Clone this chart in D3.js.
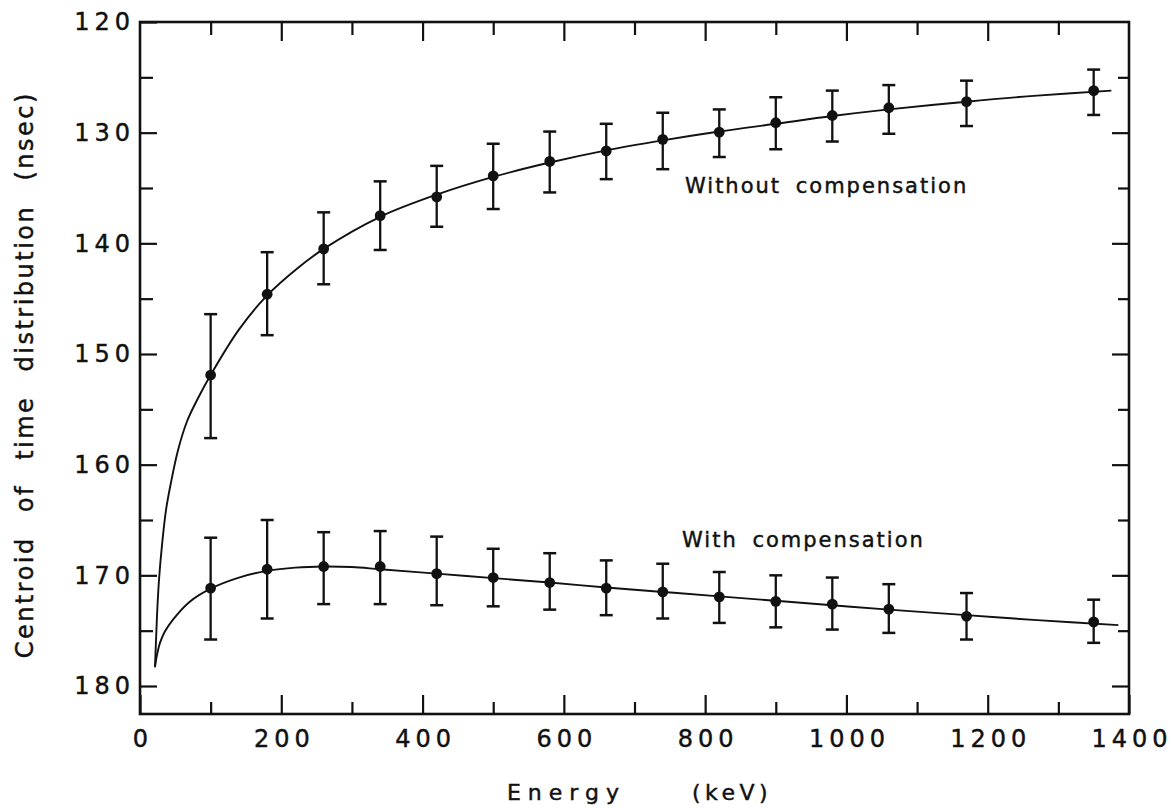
<!DOCTYPE html>
<html>
<head>
<meta charset="utf-8">
<script src="https://cdn.jsdelivr.net/npm/d3@7"></script>
<style>
  body { margin: 0; background: #fff; }
  svg { display: block; }
  text { font-family: "DejaVu Sans", sans-serif; fill: #111; stroke: #111; stroke-width: 0.45px; }
</style>
</head>
<body>
<div id="chart"></div>
<script>
// energies of the measured points (keV)
const energies = [100, 180, 260, 340, 420, 500, 580, 660, 740, 820, 900, 980, 1060, 1170, 1350];

// without compensation: centroid, error bar top, error bar bottom (nsec)
const withoutMean = [151.9, 144.6, 140.5, 137.5, 135.8, 133.9, 132.6, 131.65, 130.6, 129.95, 129.1, 128.45, 127.75, 127.2, 126.2];
const withoutTop = [146.4, 140.8, 137.2, 134.4, 133.0, 131.0, 129.9, 129.2, 128.2, 127.9, 126.8, 126.2, 125.7, 125.3, 124.3];
const withoutBottom = [157.6, 148.3, 143.7, 140.6, 138.5, 136.9, 135.4, 134.2, 133.3, 132.2, 131.5, 130.8, 130.1, 129.4, 128.4];

// with compensation
const withMean = [171.15, 169.45, 169.2, 169.2, 169.85, 170.2, 170.65, 171.15, 171.5, 171.95, 172.35, 172.6, 173.05, 173.7, 174.2];
const withTop = [166.6, 165.0, 166.1, 166.0, 166.5, 167.6, 168.0, 168.65, 168.95, 169.7, 170.0, 170.2, 170.8, 171.6, 172.2];
const withBottom = [175.8, 173.9, 172.6, 172.6, 172.7, 172.8, 173.1, 173.6, 173.9, 174.3, 174.7, 174.9, 175.2, 175.8, 176.1];

// fitted curves [keV, nsec]
const withoutCurve = [[21.2, 178.3], [22.4, 176.3], [24.1, 173.6], [26.9, 170.4], [31.1, 167.3], [36.8, 164.1],
  [43.9, 161.6], [53.8, 158.7], [66.5, 156.1], [82.1, 154.0], [100, 151.9], [140, 147.8], [180, 144.7],
  [220, 142.4], [260, 140.5], [340, 137.6], [420, 135.6], [500, 134.0], [580, 132.7], [660, 131.6],
  [740, 130.7], [820, 129.9], [900, 129.2], [980, 128.5], [1060, 127.9], [1170, 127.2], [1270, 126.65],
  [1375, 126.2]];
const withCurve = [[21.2, 178.3], [24, 177.2], [28.3, 176.1], [35, 175.1], [46.7, 174.0], [70, 172.4],
  [100, 171.2], [140, 170.2], [180, 169.6], [220, 169.3], [260, 169.2], [300, 169.25], [340, 169.45],
  [420, 169.85], [500, 170.25], [580, 170.65], [660, 171.1], [740, 171.5], [820, 171.9], [900, 172.3],
  [980, 172.7], [1060, 173.1], [1170, 173.6], [1270, 174.05], [1385, 174.5]];

// ticks
const xMajor = [0, 200, 400, 600, 800, 1000, 1200, 1400];
const xMinor = [100, 300, 500, 700, 900, 1100, 1300];
const yMajor = [120, 130, 140, 150, 160, 170, 180];
const yMinor = [125, 135, 145, 155, 165, 175];

// curve labels [text, keV, nsec]
const curveLabels = [["Without compensation", 771.5, 135.45], ["With compensation", 767.3, 167.44]];

const W = 1172, H = 808;
const mLeft = 140, mRight = 1129, mTop = 22, mBottom = 714;

const svg = d3.select("#chart").append("svg")
    .attr("width", W)
    .attr("height", H);

const x = d3.scaleLinear().domain([0, 1400]).range([mLeft, mRight]);
const y = d3.scaleLinear().domain([120, 180]).range([mTop, 686]);

const tickLs = 5;

// bottom axis with labels
const gBottom = svg.append("g")
    .attr("transform", "translate(0," + mBottom + ")")
    .call(d3.axisBottom(x).tickValues(xMajor).tickSize(-19).tickPadding(16).tickFormat(d3.format("d")));
gBottom.selectAll("text")
    .attr("font-size", 24)
    .attr("letter-spacing", tickLs)
    .attr("dx", tickLs / 2)
    .style("font-family", '"DejaVu Sans", sans-serif')
    .attr("fill", "#111");
svg.append("g")
    .attr("transform", "translate(0," + mBottom + ")")
    .call(d3.axisBottom(x).tickValues(xMinor).tickSize(-12).tickFormat(""));

// top axis
svg.append("g")
    .attr("transform", "translate(0," + mTop + ")")
    .call(d3.axisTop(x).tickValues(xMajor.slice(1, -1)).tickSize(-19).tickFormat(""));
svg.append("g")
    .attr("transform", "translate(0," + mTop + ")")
    .call(d3.axisTop(x).tickValues(xMinor).tickSize(-13).tickFormat(""));

// left axis with labels
const gLeft = svg.append("g")
    .attr("transform", "translate(" + mLeft + ",0)")
    .call(d3.axisLeft(y).tickValues(yMajor).tickSize(-17).tickPadding(5).tickFormat(d3.format("d")));
gLeft.selectAll("text")
    .attr("font-size", 24)
    .attr("letter-spacing", tickLs)
    .style("font-family", '"DejaVu Sans", sans-serif')
    .attr("fill", "#111");
svg.append("g")
    .attr("transform", "translate(" + mLeft + ",0)")
    .call(d3.axisLeft(y).tickValues(yMinor).tickSize(-13).tickFormat(""));

// right axis
svg.append("g")
    .attr("transform", "translate(" + mRight + ",0)")
    .call(d3.axisRight(y).tickValues(yMajor.slice(1)).tickSize(-17).tickFormat(""));
svg.append("g")
    .attr("transform", "translate(" + mRight + ",0)")
    .call(d3.axisRight(y).tickValues(yMinor).tickSize(-11).tickFormat(""));

svg.selectAll(".domain").remove();
svg.selectAll(".tick line").attr("stroke", "#111").attr("stroke-width", 2.2);

// frame
svg.append("rect")
    .attr("x", mLeft)
    .attr("y", mTop)
    .attr("width", mRight - mLeft)
    .attr("height", mBottom - mTop)
    .attr("fill", "none")
    .attr("stroke", "#111")
    .attr("stroke-width", 2.6);

// fitted curves
const line = d3.line()
    .x(d => x(d[0]))
    .y(d => y(d[1]))
    .curve(d3.curveCatmullRom.alpha(0.5));

[withoutCurve, withCurve].forEach(c => {
    svg.append("path")
        .datum(c)
        .attr("d", line)
        .attr("fill", "none")
        .attr("stroke", "#111")
        .attr("stroke-width", 1.9);
});

// error bars and points
function drawSeries(mean, lo, hi) {
    const rows = energies.map((e, i) => ({ e: e, m: mean[i], lo: lo[i], hi: hi[i] }));
    const g = svg.append("g");
    const bars = g.selectAll(".bar").data(rows).enter().append("g");
    bars.append("line")
        .attr("x1", d => x(d.e)).attr("x2", d => x(d.e))
        .attr("y1", d => y(d.lo)).attr("y2", d => y(d.hi))
        .attr("stroke", "#111").attr("stroke-width", 2.3);
    bars.append("line")
        .attr("x1", d => x(d.e) - 6.5).attr("x2", d => x(d.e) + 6.5)
        .attr("y1", d => y(d.lo)).attr("y2", d => y(d.lo))
        .attr("stroke", "#111").attr("stroke-width", 2.5);
    bars.append("line")
        .attr("x1", d => x(d.e) - 6.5).attr("x2", d => x(d.e) + 6.5)
        .attr("y1", d => y(d.hi)).attr("y2", d => y(d.hi))
        .attr("stroke", "#111").attr("stroke-width", 2.5);
    bars.append("circle")
        .attr("cx", d => x(d.e))
        .attr("cy", d => y(d.m))
        .attr("r", 5.4)
        .attr("fill", "#111");
}
drawSeries(withoutMean, withoutTop, withoutBottom);
drawSeries(withMean, withTop, withBottom);

// curve labels
svg.selectAll(".clabel").data(curveLabels).enter().append("text")
    .attr("x", d => x(d[1]))
    .attr("y", d => y(d[2]))
    .attr("font-size", 21)
    .attr("letter-spacing", 2)
    .attr("word-spacing", 6)
    .text(d => d[0]);

// axis titles
svg.append("text")
    .attr("x", 626)
    .attr("y", 800)
    .attr("text-anchor", "end")
    .attr("font-size", 22)
    .attr("letter-spacing", 7)
    .text("Energy");
svg.append("text")
    .attr("x", 692)
    .attr("y", 800)
    .attr("font-size", 22)
    .attr("letter-spacing", 4.5)
    .text("(keV)");

svg.append("text")
    .attr("transform", "translate(33,376) rotate(-90)")
    .attr("text-anchor", "middle")
    .attr("dx", 1.25)
    .attr("font-size", 24)
    .attr("letter-spacing", 2.5)
    .attr("word-spacing", 14)
    .text("Centroid of time distribution (nsec)");
</script>
</body>
</html>
